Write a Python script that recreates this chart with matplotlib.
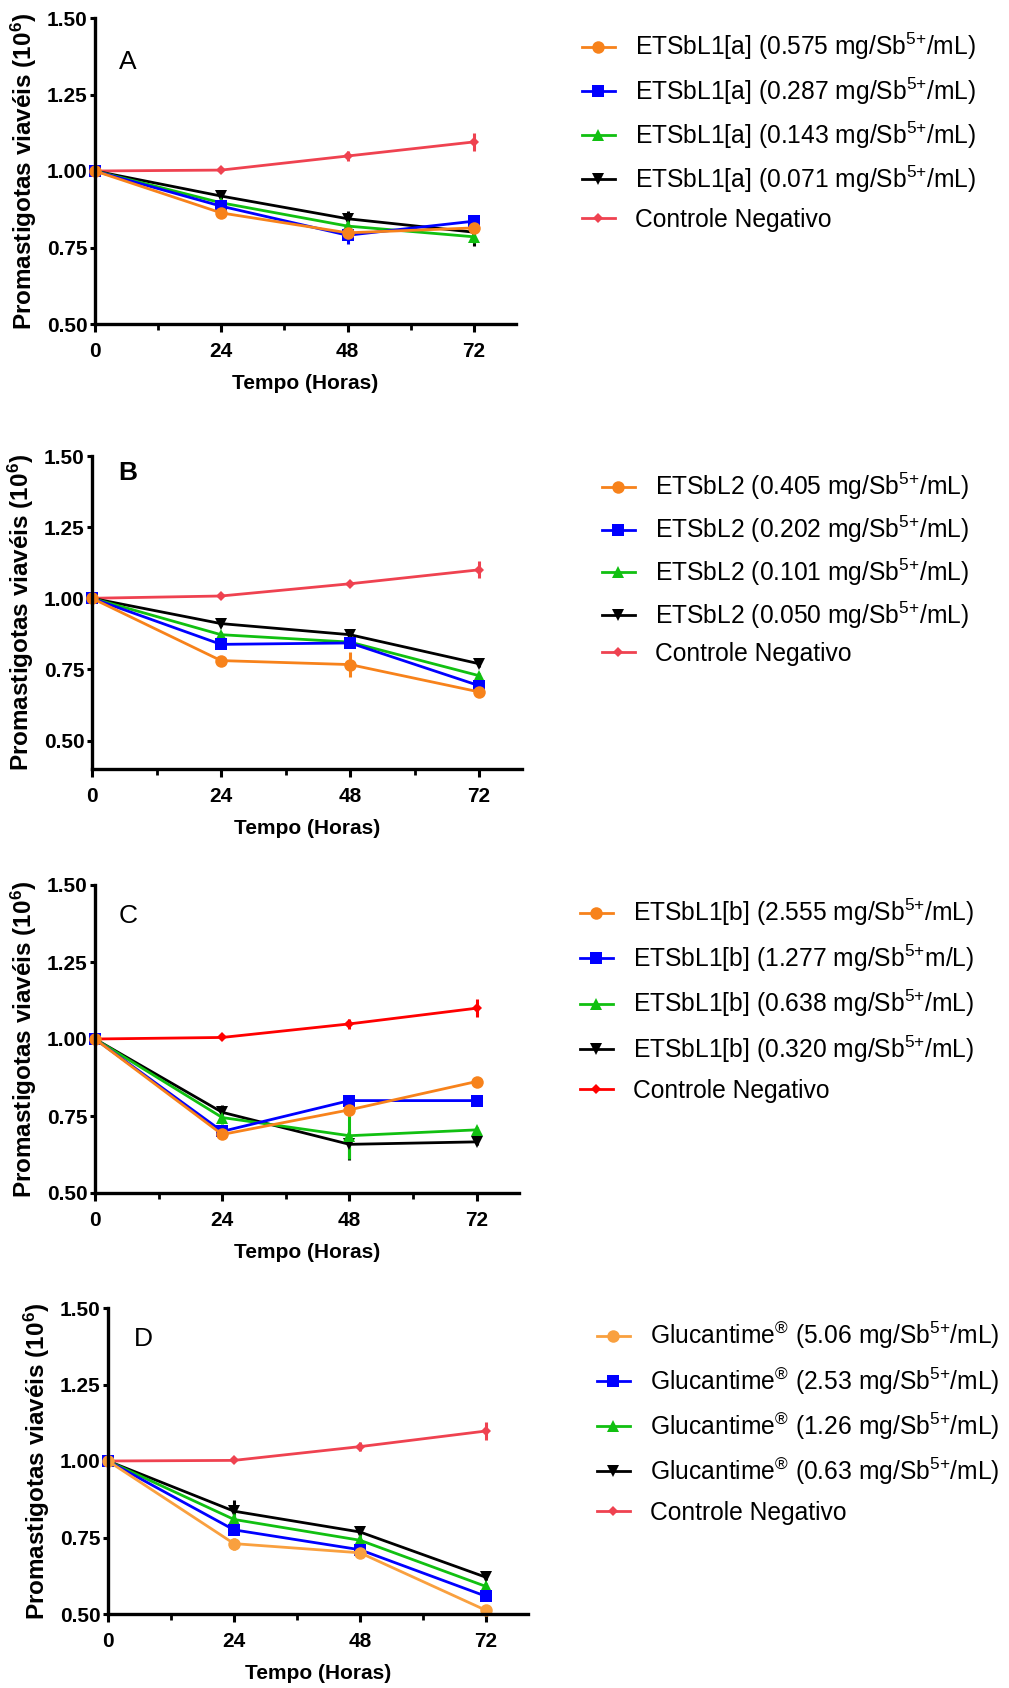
import matplotlib
matplotlib.use("Agg")
import matplotlib.pyplot as plt

plt.rcParams['font.family'] = ['Liberation Sans', 'DejaVu Sans']
plt.rcParams['mathtext.fontset'] = 'custom'
plt.rcParams['mathtext.rm'] = 'Liberation Sans'
plt.rcParams['mathtext.it'] = 'Liberation Sans:italic'
plt.rcParams['mathtext.bf'] = 'Liberation Sans:bold'

hours = [0, 24, 48, 72]
yticks = [0.50, 0.75, 1.00, 1.25, 1.50]

SB = "Sb$^{5{+}}$"

# Panel A
A_names = [f"ETSbL1[a] (0.575 mg/{SB}/mL)", f"ETSbL1[a] (0.287 mg/{SB}/mL)",
           f"ETSbL1[a] (0.143 mg/{SB}/mL)", f"ETSbL1[a] (0.071 mg/{SB}/mL)",
           "Controle Negativo"]
A_orange = [1.00, 0.863, 0.798, 0.814]
A_orange_err = [0, 0.015, 0.010, 0.010]
A_blue = [1.00, 0.885, 0.790, 0.836]
A_blue_err = [0, 0.010, 0.030, 0.010]
A_green = [1.00, 0.896, 0.820, 0.785]
A_green_err = [0, 0.010, 0.030, 0.020]
A_black = [1.00, 0.918, 0.844, 0.800]
A_black_err = [0, 0.010, 0.025, 0.045]
A_ctrl = [1.00, 1.003, 1.049, 1.095]
A_ctrl_err = [0, 0.005, 0.015, 0.030]

# Panel B
B_names = [f"ETSbL2 (0.405 mg/{SB}/mL)", f"ETSbL2 (0.202 mg/{SB}/mL)",
           f"ETSbL2 (0.101 mg/{SB}/mL)", f"ETSbL2 (0.050 mg/{SB}/mL)",
           "Controle Negativo"]
B_orange = [1.00, 0.781, 0.767, 0.671]
B_orange_err = [0, 0.010, 0.045, 0.010]
B_blue = [1.00, 0.838, 0.843, 0.693]
B_blue_err = [0, 0.010, 0.010, 0.010]
B_green = [1.00, 0.872, 0.846, 0.728]
B_green_err = [0, 0.010, 0.010, 0.010]
B_black = [1.00, 0.911, 0.872, 0.770]
B_black_err = [0, 0.010, 0.010, 0.010]
B_ctrl = [1.00, 1.008, 1.051, 1.100]
B_ctrl_err = [0, 0.005, 0.008, 0.030]

# Panel C
C_names = [f"ETSbL1[b] (2.555 mg/{SB}/mL)", f"ETSbL1[b] (1.277 mg/{SB}m/L)",
           f"ETSbL1[b] (0.638 mg/{SB}/mL)", f"ETSbL1[b] (0.320 mg/{SB}/mL)",
           "Controle Negativo"]
C_orange = [1.00, 0.690, 0.770, 0.862]
C_orange_err = [0, 0.010, 0.020, 0.010]
C_blue = [1.00, 0.700, 0.800, 0.800]
C_blue_err = [0, 0.010, 0.010, 0.010]
C_green = [1.00, 0.745, 0.686, 0.705]
C_green_err = [0, 0.020, 0.075, 0.010]
C_black = [1.00, 0.762, 0.658, 0.666]
C_black_err = [0, 0.025, 0.050, 0.010]
C_ctrl = [1.00, 1.005, 1.049, 1.100]
C_ctrl_err = [0, 0.005, 0.015, 0.030]

# Panel D
D_names = [f"Glucantime$^{{®}}$ (5.06 mg/{SB}/mL)", f"Glucantime$^{{®}}$ (2.53 mg/{SB}/mL)",
           f"Glucantime$^{{®}}$ (1.26 mg/{SB}/mL)", f"Glucantime$^{{®}}$ (0.63 mg/{SB}/mL)",
           "Controle Negativo"]
D_orange = [1.00, 0.730, 0.700, 0.512]
D_orange_err = [0, 0.020, 0.010, 0.010]
D_blue = [1.00, 0.775, 0.710, 0.558]
D_blue_err = [0, 0.015, 0.010, 0.010]
D_green = [1.00, 0.809, 0.741, 0.590]
D_green_err = [0, 0.045, 0.020, 0.010]
D_black = [1.00, 0.836, 0.768, 0.620]
D_black_err = [0, 0.035, 0.010, 0.010]
D_ctrl = [1.00, 1.002, 1.047, 1.098]
D_ctrl_err = [0, 0.005, 0.015, 0.030]

W, H = 1009, 1688
fig = plt.figure(figsize=(W / 100, H / 100), dpi=100)

ORANGE = '#F7821B'
ORANGE_D = '#F9A03F'
BLUE = '#0000FF'
GREEN = '#11C011'
BLACK = '#000000'
RED = '#EF4250'
RED_C = '#FF0000'

panels = [
    dict(letter='A', lw='normal', box=(95, 18, 516, 324), ylim=(0.50, 1.50),
         data=[(A_ctrl, A_ctrl_err), (A_black, A_black_err), (A_green, A_green_err),
               (A_blue, A_blue_err), (A_orange, A_orange_err)],
         names=A_names, colors=(RED, BLACK, GREEN, BLUE, ORANGE),
         leg=(582, 31), lsp=0.52, letter_xy=(6.3, 1.356)),
    dict(letter='B', lw='bold', box=(92, 456, 522, 769), ylim=(0.40, 1.50),
         data=[(B_ctrl, B_ctrl_err), (B_black, B_black_err), (B_green, B_green_err),
               (B_blue, B_blue_err), (B_orange, B_orange_err)],
         names=B_names, colors=(RED, BLACK, GREEN, BLUE, ORANGE),
         leg=(602, 471), lsp=0.46, letter_xy=(6.7, 1.44)),
    dict(letter='C', lw='normal', box=(95, 885, 519, 1193), ylim=(0.50, 1.50),
         data=[(C_ctrl, C_ctrl_err), (C_black, C_black_err), (C_green, C_green_err),
               (C_blue, C_blue_err), (C_orange, C_orange_err)],
         names=C_names, colors=(RED_C, BLACK, GREEN, BLUE, ORANGE),
         leg=(580, 897), lsp=0.57, letter_xy=(6.3, 1.40)),
    dict(letter='D', lw='normal', box=(108, 1308, 528, 1614), ylim=(0.50, 1.50),
         data=[(D_ctrl, D_ctrl_err), (D_black, D_black_err), (D_green, D_green_err),
               (D_blue, D_blue_err), (D_orange, D_orange_err)],
         names=D_names, colors=(RED, BLACK, GREEN, BLUE, ORANGE_D),
         leg=(597, 1320), lsp=0.56, letter_xy=(6.7, 1.40)),
]

markers = ['D', 'v', '^', 's', 'o']
msizes = [5, 8, 8, 8, 9]

for p in panels:
    l, t, r, b = p['box']
    ax = fig.add_axes([l / W, 1 - b / H, (r - l) / W, (b - t) / H])
    handles = []
    for (vals, err), c, m, ms in zip(p['data'], p['colors'], markers, msizes):
        h = ax.errorbar(hours, vals, yerr=err, color=c, marker=m, ms=ms, lw=2.0,
                        elinewidth=2.2, capsize=4, capthick=2.2, clip_on=False,
                        markeredgewidth=0)
        for art in h.lines[1] + h.lines[2]:
            art.set_clip_on(False)
        handles.append(h.lines[0])
    ax.set_xlim(0, 80)
    ax.set_ylim(*p['ylim'])
    ax.set_xticks(hours)
    ax.set_xticks([12, 36, 60], minor=True)
    ax.set_yticks(yticks)
    ax.set_yticklabels([f"{v:.2f}" for v in yticks])
    for s in ['top', 'right']:
        ax.spines[s].set_visible(False)
    for s in ['left', 'bottom']:
        ax.spines[s].set_linewidth(2.4)
    ax.tick_params(axis='y', which='major', length=3.5, width=2.2, labelsize=15, pad=2)
    ax.tick_params(axis='x', which='major', length=6, width=2.2, labelsize=15, pad=7)
    ax.tick_params(axis='x', which='minor', length=4, width=2.0)
    for lab in ax.get_xticklabels() + ax.get_yticklabels():
        lab.set_fontweight('bold')
    ax.set_xlabel('Tempo (Horas)', fontsize=15, fontweight='bold', labelpad=9)
    ax.set_ylabel(r'Promastigotas viavéis (10$^{\mathbf{6}}$)', fontsize=17.5, fontweight='bold')
    ax.yaxis.set_label_coords(-56 / (r - l), 0.5)
    ax.text(p['letter_xy'][0], p['letter_xy'][1], p['letter'], fontsize=19,
            fontweight=p['lw'], va='center', ha='center')
    order = [4, 3, 2, 1, 0]
    lx, ly = p['leg']
    ax.legend([handles[i] for i in order], p['names'], loc='upper left',
              bbox_to_anchor=(lx / W, 1 - ly / H), bbox_transform=fig.transFigure,
              frameon=False, fontsize=17.7, handlelength=1.34, handletextpad=0.8,
              labelspacing=p['lsp'], borderpad=0, borderaxespad=0)

fig.savefig('out.png', dpi=100)
